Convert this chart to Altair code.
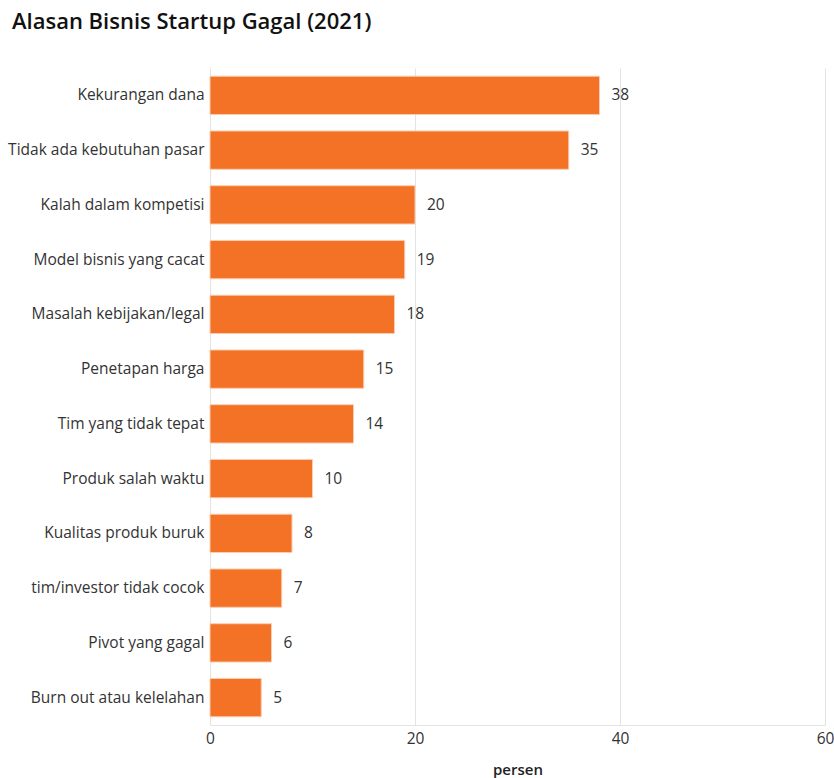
import altair as alt
import pandas as pd

reasons = [
    "Kekurangan dana",
    "Tidak ada kebutuhan pasar",
    "Kalah dalam kompetisi",
    "Model bisnis yang cacat",
    "Masalah kebijakan/legal",
    "Penetapan harga",
    "Tim yang tidak tepat",
    "Produk salah waktu",
    "Kualitas produk buruk",
    "tim/investor tidak cocok",
    "Pivot yang gagal",
    "Burn out atau kelelahan",
]
values = [38, 35, 20, 19, 18, 15, 14, 10, 8, 7, 6, 5]

df = pd.DataFrame({"alasan": reasons, "persen": values})

FONT = "Segoe UI, Open Sans, Noto Sans, sans-serif"

base = alt.Chart(df).encode(
    y=alt.Y(
        "alasan:N",
        sort=reasons,
        title=None,
        scale=alt.Scale(paddingInner=0.3, paddingOuter=0.15),
        axis=alt.Axis(
            ticks=False,
            domain=False,
            labelFontSize=15.5,
            labelColor="#333333",
            labelPadding=6,
            labelFont=FONT,
            labelLimit=300,
        ),
    ),
    x=alt.X(
        "persen:Q",
        title="persen",
        scale=alt.Scale(domain=[0, 60]),
        axis=alt.Axis(
            values=[0, 20, 40, 60],
            ticks=False,
            domain=True,
            domainColor="#e3e3e3",
            gridColor="#e3e3e3",
            labelFontSize=15.5,
            labelColor="#333333",
            labelPadding=6,
            labelFlush=False,
            labelFont=FONT,
            titleFont=FONT,
            titleFontSize=15,
            titleFontWeight=600,
            titleColor="#222222",
            titlePadding=16,
        ),
    ),
)

bars = base.mark_bar(color="#F37226", stroke="#fbcdb0", strokeWidth=1)
labels = base.mark_text(align="left", dx=12, fontSize=15.5, color="#333333", font=FONT).encode(
    text="persen:Q"
)

chart = (
    (bars + labels)
    .properties(
        width=615,
        height=657,
        autosize=alt.AutoSizeParams(type="none"),
        padding={"left": 210, "top": 68, "right": 9, "bottom": 53},
        title=alt.TitleParams(
            "Alasan Bisnis Startup Gagal (2021)",
            anchor="start",
            frame="group",
            dx=-198,
            offset=34,
            fontSize=22,
            fontWeight=600,
            font=FONT,
            color="#111111",
        ),
    )
    .configure_view(stroke=None)
)

chart.save("out.html", embed_options={"renderer": "svg", "actions": False})
